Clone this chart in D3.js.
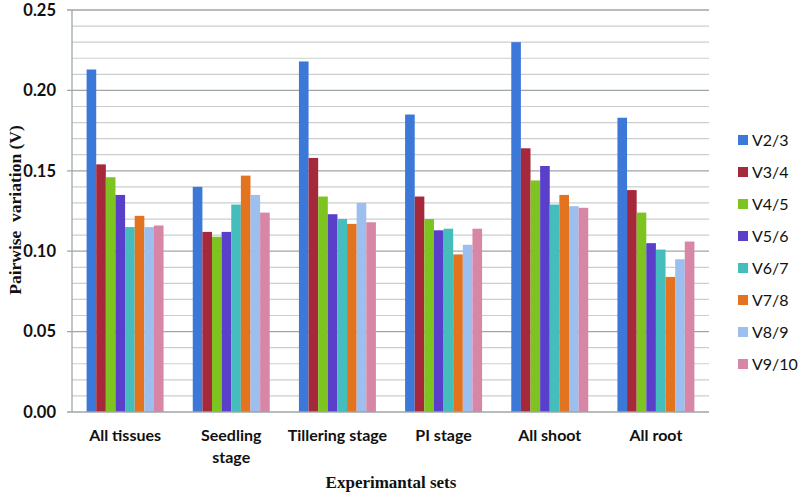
<!DOCTYPE html>
<html><head><meta charset="utf-8">
<script src="https://cdn.jsdelivr.net/npm/d3@7"></script>
<style>body{margin:0;background:#fff}svg{display:block}</style>
</head><body>
<svg id="c" width="798" height="495"></svg>
<script>
const categories = ["All tissues", "Seedling stage", "Tillering stage", "PI stage", "All shoot", "All root"];
const categoryLines = [["All tissues"], ["Seedling", "stage"], ["Tillering stage"], ["PI stage"], ["All shoot"], ["All root"]];
const seriesNames = ["V2/3", "V3/4", "V4/5", "V5/6", "V6/7", "V7/8", "V8/9", "V9/10"];
const colors = ["#3b78d8", "#a6283b", "#7dc421", "#5a3fca", "#45bdbd", "#e4731f", "#9cbff0", "#d886a6"];
const v23  = [0.213, 0.140, 0.218, 0.185, 0.230, 0.183];
const v34  = [0.154, 0.112, 0.158, 0.134, 0.164, 0.138];
const v45  = [0.146, 0.109, 0.134, 0.120, 0.144, 0.124];
const v56  = [0.135, 0.112, 0.123, 0.113, 0.153, 0.105];
const v67  = [0.115, 0.129, 0.120, 0.114, 0.129, 0.101];
const v78  = [0.122, 0.147, 0.117, 0.098, 0.135, 0.084];
const v89  = [0.115, 0.135, 0.130, 0.104, 0.128, 0.095];
const v910 = [0.116, 0.124, 0.118, 0.114, 0.127, 0.106];
const yTicks = [0, 0.05, 0.10, 0.15, 0.20, 0.25];
const series = [v23, v34, v45, v56, v67, v78, v89, v910];

const svg = d3.select("#c");
const pL = 72, pR = 709, pT = 10, pB = 412;
const x = d3.scaleBand().domain(categories).range([pL, pR]).paddingInner(0.275).paddingOuter(0.1375);
const xs = d3.scaleBand().domain(seriesNames).range([0, x.bandwidth()]);
const y = d3.scaleLinear().domain([0, 0.25]).range([pB, pT]);

// grid
const minor = d3.range(1, 25).map(i => i / 100).filter(v => Math.round(v * 100) % 5 !== 0);
svg.append("g").selectAll("line").data(minor).join("line")
  .attr("x1", pL).attr("x2", pR).attr("y1", d => y(d)).attr("y2", d => y(d))
  .attr("stroke", "#c9cfcf").attr("stroke-width", 1.2);
svg.append("g").selectAll("line").data(yTicks.filter(d => d > 0)).join("line")
  .attr("x1", pL - 5).attr("x2", pR).attr("y1", d => y(d)).attr("y2", d => y(d))
  .attr("stroke", "#9ea6a6").attr("stroke-width", 1.3);

// bars
const g = svg.append("g");
series.forEach((vals, si) => {
  g.selectAll(null).data(vals).join("rect")
    .attr("x", (d, i) => x(categories[i]) + xs(seriesNames[si]))
    .attr("width", xs.bandwidth())
    .attr("y", d => y(d))
    .attr("height", d => y(0) - y(d))
    .attr("fill", colors[si]);
});

// axes lines
svg.append("line").attr("x1", pL).attr("x2", pL).attr("y1", pT).attr("y2", pB)
  .attr("stroke", "#9ea6a6").attr("stroke-width", 1.3);
svg.append("line").attr("x1", pL - 5).attr("x2", pR).attr("y1", pB).attr("y2", pB)
  .attr("stroke", "#9ea6a6").attr("stroke-width", 1.5);

// y tick labels
svg.append("g").selectAll("text").data(yTicks).join("text")
  .attr("x", 56).attr("y", d => y(d)).attr("dy", "0.35em")
  .attr("text-anchor", "end")
  .attr("font-family", "Lato, 'Open Sans', sans-serif").attr("font-weight", "bold").attr("font-size", 16.5)
  .attr("fill", "#111").text(d => d.toFixed(2));

// x labels
categories.forEach((c, i) => {
  const t = svg.append("text").attr("text-anchor", "middle")
    .attr("font-family", "Lato, 'Open Sans', sans-serif").attr("font-weight", "bold").attr("font-size", 16)
    .attr("fill", "#111");
  categoryLines[i].forEach((ln, j) => {
    t.append("tspan").attr("x", x(c) + x.bandwidth() / 2).attr("y", 441 + j * 22).text(ln);
  });
});

// axis titles
svg.append("text").attr("x", 391).attr("y", 488).attr("text-anchor", "middle")
  .attr("font-family", "'Liberation Serif', 'Times New Roman', serif").attr("font-weight", "bold").attr("font-size", 17)
  .attr("fill", "#111").text("Experimantal sets");
svg.append("text").attr("transform", "translate(21,210) rotate(-90)").attr("text-anchor", "middle")
  .attr("font-family", "'Liberation Serif', 'Times New Roman', serif").attr("font-weight", "bold").attr("font-size", 17.5)
  .attr("fill", "#111").style("white-space", "pre").text("Pairwise  variation (V)");

// legend
const lg = svg.append("g");
seriesNames.forEach((s, i) => {
  const yy = 140 + i * 32;
  lg.append("rect").attr("x", 738).attr("y", yy - 5).attr("width", 10).attr("height", 10).attr("fill", colors[i]);
  lg.append("text").attr("x", 752).attr("y", yy).attr("dy", "0.36em")
    .attr("font-family", "Lato, 'Open Sans', sans-serif").attr("font-size", 16).attr("fill", "#111").text(s);
});
</script>
</body></html>
